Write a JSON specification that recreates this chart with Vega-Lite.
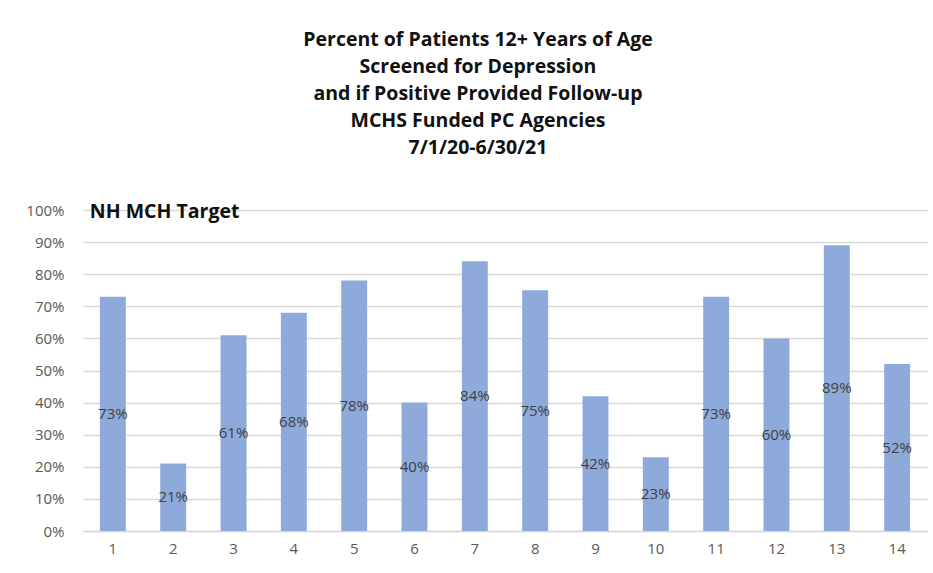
{
  "$schema": "https://vega.github.io/schema/vega-lite/v6.json",
  "width": 844,
  "height": 321,
  "autosize": {"type": "none"},
  "padding": {"left": 83, "top": 210, "right": 6, "bottom": 42},
  "background": "white",
  "config": {
    "font": "Open Sans",
    "view": {"stroke": null}
  },
  "title": {
    "text": ["Percent of Patients 12+  Years of Age", "Screened for Depression", "and if Positive Provided Follow-up", "MCHS Funded PC Agencies", "7/1/20-6/30/21"],
    "anchor": "middle",
    "dx": -27,
    "fontSize": 19.5,
    "fontWeight": "bold",
    "lineHeight": 27,
    "color": "#111111",
    "font": "Open Sans",
    "offset": 44
  },
  "datasets": {
    "bars": [
      {"agency": "1", "pct": 73},
      {"agency": "2", "pct": 21},
      {"agency": "3", "pct": 61},
      {"agency": "4", "pct": 68},
      {"agency": "5", "pct": 78},
      {"agency": "6", "pct": 40},
      {"agency": "7", "pct": 84},
      {"agency": "8", "pct": 75},
      {"agency": "9", "pct": 42},
      {"agency": "10", "pct": 23},
      {"agency": "11", "pct": 73},
      {"agency": "12", "pct": 60},
      {"agency": "13", "pct": 89},
      {"agency": "14", "pct": 52}
    ],
    "target": [{"agency": "1", "pct": 100, "label": "NH MCH Target"}]
  },
  "encoding": {
    "x": {
      "field": "agency", "type": "ordinal", "sort": null,
      "scale": {"paddingInner": 0.57, "paddingOuter": 0.28},
      "axis": {"title": null, "labelAngle": 0, "labelFontSize": 15, "labelColor": "#595959", "labelPadding": 10, "ticks": false, "domain": true, "domainColor": "#d9d9d9", "domainWidth": 1.3, "labelFont": "Open Sans"}
    },
    "y": {
      "field": "pct", "type": "quantitative",
      "scale": {"domain": [0, 100]},
      "axis": {"title": null, "values": [0,10,20,30,40,50,60,70,80,90,100], "tickCount": 11, "labelOverlap": false, "labelExpr": "datum.value + '%'", "labelFontSize": 15, "labelColor": "#595959", "labelPadding": 19, "ticks": false, "domain": false, "gridColor": "#d9d9d9", "gridWidth": 1.3, "labelFont": "Open Sans"}
    }
  },
  "layer": [
    {
      "data": {"name": "bars"},
      "mark": {"type": "bar", "color": "#8eaadb"}
    },
    {
      "data": {"name": "bars"},
      "transform": [
        {"calculate": "datum.pct / 2", "as": "mid"},
        {"calculate": "datum.pct + '%'", "as": "lbl"}
      ],
      "mark": {"type": "text", "fontSize": 15, "color": "#404040", "baseline": "middle", "align": "center", "font": "Open Sans"},
      "encoding": {
        "y": {
          "field": "mid", "type": "quantitative",
          "axis": {"title": null, "values": [0,10,20,30,40,50,60,70,80,90,100], "tickCount": 11, "labelOverlap": false, "labelExpr": "datum.value + '%'", "labelFontSize": 15, "labelColor": "#595959", "labelPadding": 19, "ticks": false, "domain": false, "gridColor": "#d9d9d9", "gridWidth": 1.3, "labelFont": "Open Sans"}
        },
        "text": {"field": "lbl"}
      }
    },
    {
      "data": {"name": "target"},
      "mark": {"type": "text", "fontSize": 19.5, "fontWeight": "bold", "color": "#111111", "align": "left", "baseline": "middle", "dx": -23, "dy": 2, "font": "Open Sans"},
      "encoding": {
        "text": {"field": "label"}
      }
    }
  ]
}
